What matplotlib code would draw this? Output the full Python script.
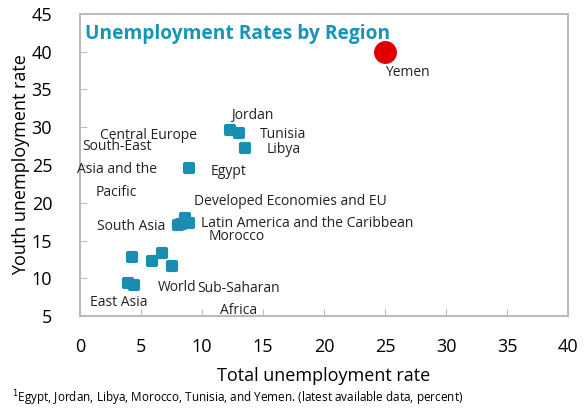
import matplotlib
matplotlib.use("Agg")
import matplotlib.pyplot as plt
from matplotlib.markers import MarkerStyle

plt.rcParams['font.family'] = ['Open Sans', 'DejaVu Sans']

# total vs youth unemployment (percent)
regions = ["Jordan", "Tunisia", "Libya", "Egypt", "Morocco",
           "Latin America and the Caribbean", "Developed Economies and EU",
           "South Asia", "World", "Sub-Saharan\nAfrica", "East Asia",
           "Central Europe", "South-East\nAsia and the\nPacific", ""]
total = [12.3, 13.0, 13.5, 8.9, 8.0, 8.9, 8.6, 8.3, 5.9, 7.5, 4.4, 6.7, 4.3, 3.9]
youth = [29.6, 29.2, 27.3, 24.6, 17.0, 17.3, 18.0, 17.2, 12.3, 11.6, 9.1, 13.3, 12.8, 9.4]

yemen_total = 25.0
yemen_youth = 40.0

# where each label sits (data coords), and alignment
label_pos = [(12.4, 31.6), (14.7, 29.0), (15.3, 27.0), (10.7, 24.2), (10.5, 15.5),
             (9.9, 17.3), (9.3, 20.2), (7.0, 16.9), (6.4, 8.8), (13.0, 7.2),
             (0.8, 6.8), (5.6, 28.9), (3.0, 24.4), (0, 0)]
label_ha = ["left", "left", "left", "left", "left", "left", "left",
            "right", "left", "center", "left", "center", "center", "left"]

fig = plt.figure(figsize=(5.84, 4.11), dpi=100)
ax = fig.add_axes([0.137, 0.231, 0.836, 0.735])

sq = MarkerStyle("s", joinstyle="round")
ax.scatter(total, youth, marker=sq, s=40, color="#1a8db3", edgecolors="#1a8db3",
           linewidths=3, zorder=3)
ax.scatter([yemen_total], [yemen_youth], marker="o", s=240, color="#e00000", zorder=3)

for name, (lx, ly), ha in zip(regions, label_pos, label_ha):
    if name:
        ax.text(lx, ly, name, ha=ha, va="center", fontsize=10, color="#222222",
                linespacing=1.7)
ax.text(25.0, 37.3, "Yemen", ha="left", va="center", fontsize=10, color="#222222")

ax.set_xlim(0, 40)
ax.set_ylim(5, 45)
ax.set_xticks(range(0, 41, 5))
ax.set_yticks(range(5, 46, 5))
ax.tick_params(direction="in", length=5, color="#bbbbbb", labelsize=13)
ax.tick_params(axis="x", pad=16)
ax.tick_params(axis="y", pad=20)
for sp in ax.spines.values():
    sp.set_color("#bbbbbb")
    sp.set_linewidth(1.5)

ax.set_xlabel("Total unemployment rate", fontsize=13, labelpad=8)
ax.set_ylabel("Youth unemployment rate", fontsize=13, labelpad=1)

ax.text(0.01, 0.935, "Unemployment Rates by Region", transform=ax.transAxes,
        fontsize=13.8, fontweight="bold", color="#1596b8", va="center")

fig.text(0.02, 0.032, "$^1$Egypt, Jordan, Libya, Morocco, Tunisia, and Yemen. (latest available data, percent)",
         fontsize=8.5, va="center")

fig.savefig("out.png", dpi=100)
